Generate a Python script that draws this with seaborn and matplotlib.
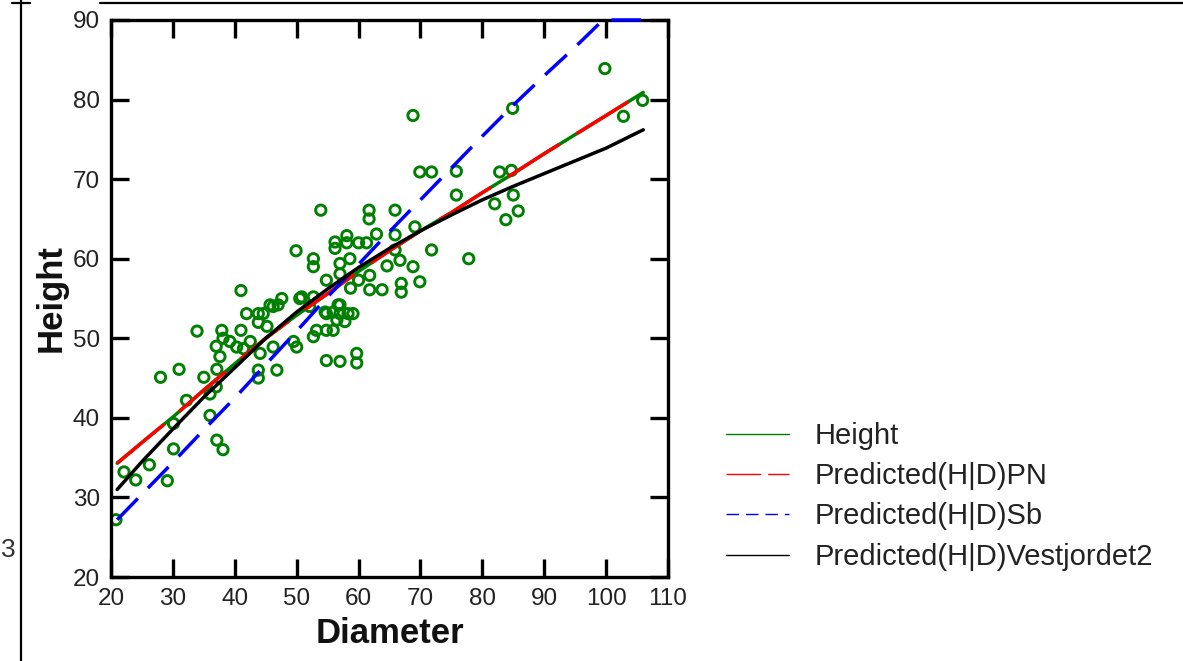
import matplotlib
matplotlib.use("Agg")
import matplotlib.pyplot as plt
from matplotlib.lines import Line2D
import seaborn as sns
import pandas as pd

# ---------------- data ----------------
diam_obs = [20.8, 22.1, 24.0, 26.2, 29.1, 30.1, 30.1, 28.0, 31.0, 32.2, 33.9, 35.0, 36.0, 36.0,
            37.1, 38.1, 37.0, 37.1, 37.6, 37.0, 37.9, 38.1, 39.2, 40.3, 41.0, 41.4, 41.0, 41.9,
            42.5, 43.8, 43.8, 43.8, 43.8, 44.1, 45.2, 44.6, 45.7, 46.2, 46.2, 46.8, 47.0, 47.6,
            49.5, 50.0, 49.9, 50.5, 50.8, 52.1, 52.7, 52.7, 52.7, 52.7, 53.2, 53.9, 54.6, 54.8,
            54.8, 54.8, 54.8, 55.9, 55.9, 56.5, 56.7, 56.2, 56.2, 57.0, 57.0, 57.0, 57.0, 57.0,
            57.8, 58.1, 58.1, 58.3, 58.6, 58.7, 59.1, 59.7, 59.7, 60.0, 60.0, 61.3, 61.7, 61.7,
            61.8, 61.8, 62.9, 63.8, 64.6, 65.9, 65.9, 65.9, 66.7, 66.9, 66.9, 68.8, 68.8, 69.1,
            69.9, 69.9, 71.8, 71.8, 75.8, 75.8, 77.8, 82.0, 82.8, 84.7, 85.0, 83.8, 85.8, 84.9,
            99.8, 102.8, 105.9]
height_obs = [27.2, 33.2, 32.2, 34.1, 32.1, 36.1, 39.3, 45.1, 46.1, 42.2, 50.9, 45.1, 43.0, 40.3,
              37.2, 36.0, 43.9, 46.1, 47.7, 49.0, 51.0, 50.0, 49.6, 48.9, 51.0, 48.7, 56.0, 53.1,
              49.6, 53.1, 52.0, 46.0, 45.0, 48.1, 51.5, 53.1, 54.2, 54.0, 48.9, 46.0, 54.2, 55.0,
              49.6, 48.9, 61.0, 55.0, 55.2, 54.0, 55.2, 60.0, 59.0, 50.2, 51.0, 66.1, 53.3, 53.1,
              51.0, 57.3, 47.2, 53.3, 51.0, 52.3, 54.2, 62.1, 61.3, 59.4, 58.1, 54.2, 53.1, 47.1,
              52.1, 62.9, 62.0, 53.1, 60.0, 56.3, 53.1, 48.1, 46.9, 62.0, 57.3, 62.0, 66.1, 65.0,
              57.9, 56.1, 63.1, 56.1, 59.1, 66.1, 63.0, 61.1, 59.8, 56.9, 55.8, 59.0, 78.0, 64.0,
              57.1, 70.9, 70.9, 61.1, 71.0, 68.0, 60.0, 66.9, 70.9, 71.1, 68.0, 64.9, 66.0, 78.9,
              83.9, 77.9, 79.9]

curve_diam = [21, 25, 30, 35, 40, 45, 50, 55, 60, 65, 70, 75, 80, 85, 90, 95, 100, 106]
height_line = [34.3, 36.9, 40.1, 43.5, 46.8, 50.0, 52.9, 55.6, 58.4, 61.0, 63.5, 65.8, 68.3, 70.7, 73.2, 75.6, 78.0, 80.9]
pred_pn = [34.3, 36.9, 40.1, 43.5, 46.8, 50.0, 52.9, 55.6, 58.4, 61.0, 63.5, 65.8, 68.3, 70.7, 73.2, 75.6, 78.0, 80.9]
pred_vest = [31.0, 34.5, 38.6, 42.6, 46.3, 50.0, 53.3, 56.2, 58.9, 61.3, 63.5, 65.5, 67.4, 69.1, 70.7, 72.3, 73.9, 76.2]
sb_diam = [21, 25, 30, 35, 40, 45, 50, 55, 60, 65, 70, 75, 80, 85, 90, 95, 99.5, 106]
pred_sb = [27.2, 30.4, 34.4, 38.5, 42.5, 46.7, 50.9, 55.2, 59.3, 63.4, 67.4, 71.4, 75.4, 79.3, 83.0, 86.6, 90.0, 90.0]

x_ticks = [20, 30, 40, 50, 60, 70, 80, 90, 100, 110]
y_ticks = [20, 30, 40, 50, 60, 70, 80, 90]
legend_labels = ["Height", "Predicted(H|D)PN", "Predicted(H|D)Sb", "Predicted(H|D)Vestjordet2"]

GREEN = "#008000"
RED = "#ff0000"
BLUE = "#0000ff"
BLACK = "#000000"

# ---------------- style ----------------
sns.set_style("white")
plt.rcParams["font.family"] = ["Liberation Sans", "DejaVu Sans"]

W, H = 1183, 661
fig = plt.figure(figsize=(W / 100, H / 100), dpi=100)
ax = fig.add_axes([111 / W, 1 - 577 / H, (668 - 111) / W, (577 - 20) / H])

obs = pd.DataFrame({"Diameter": diam_obs, "Height": height_obs})
sns.scatterplot(data=obs, x="Diameter", y="Height", ax=ax, marker="o", s=55,
                facecolor="none", edgecolor=GREEN, linewidth=2.1, zorder=2)

lw = 2.5
sns.lineplot(x=curve_diam, y=height_line, ax=ax, color=GREEN, lw=lw, errorbar=None, zorder=3)
sns.lineplot(x=curve_diam, y=pred_pn, ax=ax, color=RED, lw=lw, errorbar=None,
             linestyle=(0, (17.5, 5.8)), zorder=4)
sns.lineplot(x=sb_diam, y=pred_sb, ax=ax, color=BLUE, lw=lw, errorbar=None,
             linestyle=(0, (8.5, 4.2)), zorder=4, clip_on=False)
sns.lineplot(x=curve_diam, y=pred_vest, ax=ax, color=BLACK, lw=lw, errorbar=None, zorder=5)

ax.set_xlim(20, 110)
ax.set_ylim(20, 90)
ax.set_xticks(x_ticks)
ax.set_yticks(y_ticks)
ax.set_xticklabels([str(t) for t in x_ticks])
ax.set_yticklabels([str(t) for t in y_ticks])
ax.tick_params(direction="in", length=13, width=2.4, top=True, right=True, bottom=True, left=True,
               labelsize=17.5, pad=8, colors="#000000", labelcolor="#222222")
for sp in ax.spines.values():
    sp.set_linewidth(2.4)
    sp.set_color("black")
    sp.set_visible(True)

ax.set_xlabel("Diameter", fontsize=25, fontweight="bold", labelpad=5, color="#111111")
ax.set_ylabel("Height", fontsize=25, fontweight="bold", labelpad=4, color="#111111")

# legend
handles = [
    Line2D([], [], color=GREEN, lw=1.0),
    Line2D([], [], color=RED, lw=1.0, linestyle=(0, (25, 5))),
    Line2D([], [], color=BLUE, lw=1.0, linestyle=(0, (9, 5))),
    Line2D([], [], color=BLACK, lw=1.0),
]
fig.legend(handles, legend_labels, loc="upper left", bbox_to_anchor=(726 / W, 1 - 422 / H),
           frameon=False, fontsize=21, handlelength=2.15, handletextpad=0.9,
           labelspacing=0.42, borderpad=0, borderaxespad=0, labelcolor="#222222")

# page decorations (table borders around the embedded chart)
fig.add_artist(Line2D([100 / W, 1], [1 - 3 / H, 1 - 3 / H], transform=fig.transFigure, color="black", lw=1.6))
fig.add_artist(Line2D([12 / W, 30 / W], [1 - 3 / H, 1 - 3 / H], transform=fig.transFigure, color="black", lw=1.6))
fig.add_artist(Line2D([21 / W, 21 / W], [0, 1], transform=fig.transFigure, color="black", lw=1.6))
fig.text(1 / W, 1 - 550 / H, "3", ha="left", va="center", fontsize=19, color="#333333")

fig.savefig("out.png", dpi=100)
